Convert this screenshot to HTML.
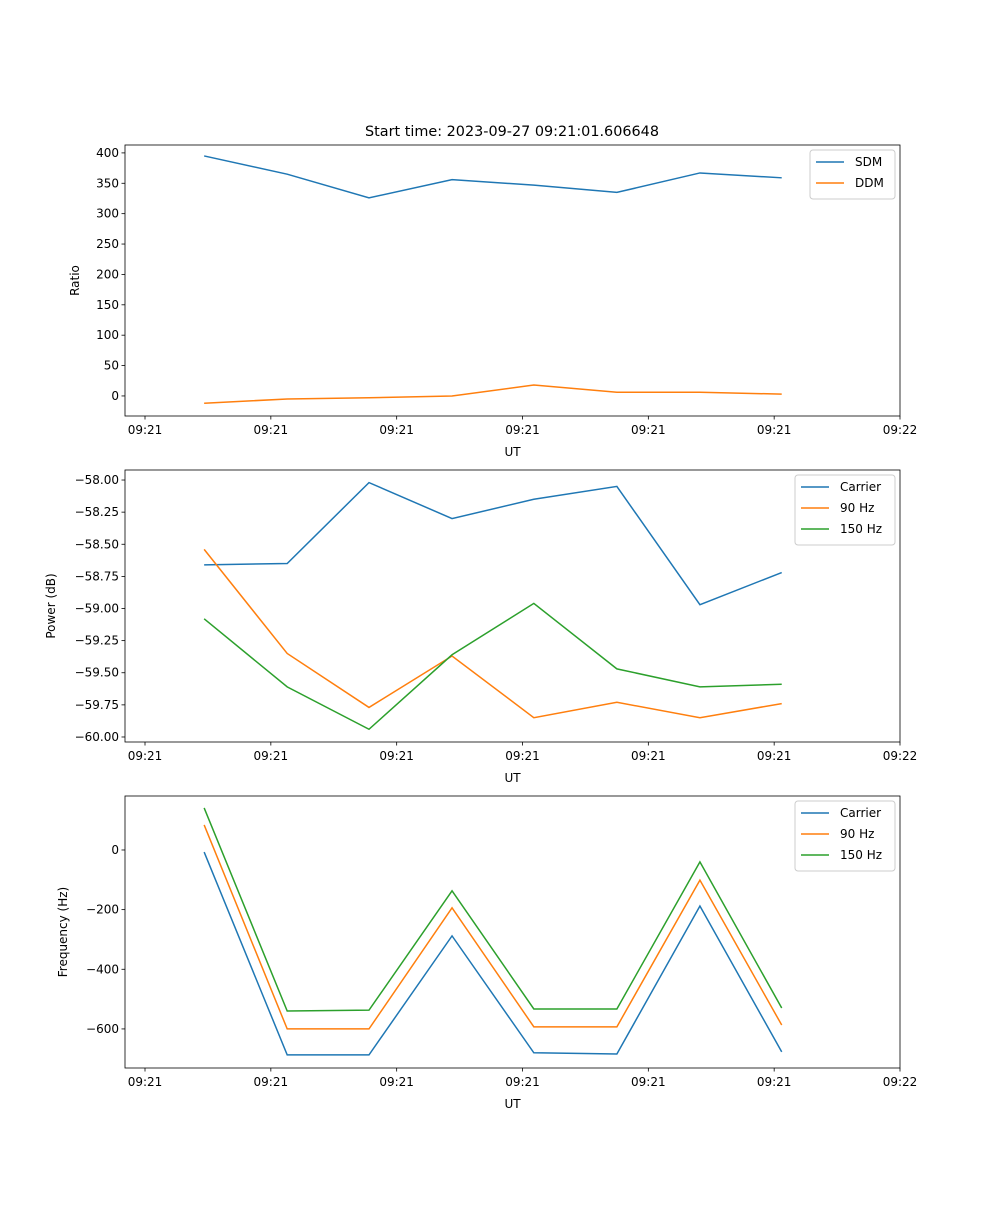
<!DOCTYPE html>
<html><head><meta charset="utf-8"><style>
body{margin:0;background:#fff;}
svg text{font-family:"DejaVu Sans","Liberation Sans",sans-serif;font-size:12px;fill:#000;}
</style></head>
<body>
<svg id="chart" width="1000" height="1200" xmlns="http://www.w3.org/2000/svg"></svg>
<script>
const xTickLabels=["09:21","09:21","09:21","09:21","09:21","09:21","09:22"];
const xVals=[0.47,1.13,1.78,2.44,3.09,3.75,4.41,5.06];
const sdm=[395,365,326,356,347,335,367,359];
const ddm=[-12,-5,-3,0,18,6,6,3];
const powCarrier=[-58.66,-58.65,-58.02,-58.30,-58.15,-58.05,-58.97,-58.72];
const pow90=[-58.54,-59.35,-59.77,-59.37,-59.85,-59.73,-59.85,-59.74];
const pow150=[-59.08,-59.61,-59.94,-59.36,-58.96,-59.47,-59.61,-59.59];
const frqCarrier=[-7,-687,-687,-288,-680,-684,-188,-677];
const frq90=[84,-600,-600,-194,-593,-593,-101,-587];
const frq150=[141,-540,-537,-137,-533,-533,-40,-530];
const ratioTicks=[0,50,100,150,200,250,300,350,400];
const powTicks=[-60,-59.75,-59.5,-59.25,-59,-58.75,-58.5,-58.25,-58];
const frqTicks=[-600,-400,-200,0];

const NS="http://www.w3.org/2000/svg";
const svg=document.getElementById('chart');
function el(t,a,p){const e=document.createElementNS(NS,t);for(const k in a)e.setAttribute(k,a[k]);(p||svg).appendChild(e);return e;}
const L=125,R=900;
function xs(v){return L+(v+0.159)/6.159*(R-L);}
const C=['#1f77b4','#ff7f0e','#2ca02c'];

function panel(name,top,bot,ymin,ymax,ticks,fmt,ylab,series,names,legend){
  const g=el('g',{});
  
  
  const ys=v=>bot-(v-ymin)/(ymax-ymin)*(bot-top);
  series.forEach((s,i)=>{
    const p=el('polyline',{points:s.map((v,j)=>xs(xVals[j])+','+ys(v)).join(' '),fill:'none',stroke:C[i],'stroke-width':1.5},g);
    
    
  });
  el('rect',{x:L,y:top,width:R-L,height:bot-top,fill:'none',stroke:'#000','stroke-width':0.8},g);
  ticks.forEach(t=>{const y=ys(t);
    el('line',{x1:L-3.5,x2:L,y1:y,y2:y,stroke:'#000','stroke-width':0.8},g);
    const tx=el('text',{x:L-6,y:y+4,'text-anchor':'end'},g);tx.textContent=fmt(t);
    
    
  });
  xTickLabels.forEach((lab,i)=>{const x=xs(i);
    el('line',{x1:x,x2:x,y1:bot,y2:bot+3.5,stroke:'#000','stroke-width':0.8},g);
    const tx=el('text',{x:x,y:bot+18,'text-anchor':'middle'},g);tx.textContent=lab;
    
    
  });
  const xl=el('text',{x:(L+R)/2,y:bot+40,'text-anchor':'middle'},g);xl.textContent='UT';
  
  
  const yx=legend.yx,yl=el('text',{x:yx,y:(top+bot)/2,'text-anchor':'middle',transform:`rotate(-90 ${yx} ${(top+bot)/2})`},g);yl.textContent=ylab;
  
  
  const lg=el('g',{},g);
  
  
  el('rect',{x:legend.x,y:top+5,width:R-5-legend.x,height:names.length*21+7,fill:'#fff',stroke:'#ccc',rx:3},lg);
  names.forEach((n,i)=>{const y=top+17+i*21;
    el('line',{x1:legend.x+6,x2:legend.x+34,y1:y,y2:y,stroke:C[i],'stroke-width':1.5},lg);
    const t=el('text',{x:legend.x+45,y:y+4},lg);t.textContent=n;
    
    
  });
}
const title=el('text',{x:512,y:136,'text-anchor':'middle',style:'font-size:14.4px'});
title.textContent='Start time: 2023-09-27 09:21:01.606648';


panel('ratio-panel',145,416,-33,413,ratioTicks,t=>String(t),'Ratio',[sdm,ddm],['SDM','DDM'],{x:810,yx:79});
panel('power-panel',470,742,-60.039,-57.922,powTicks,t=>t.toFixed(2).replace('-','−'),'Power (dB)',[powCarrier,pow90,pow150],['Carrier','90 Hz','150 Hz'],{x:795,yx:55});
panel('frequency-panel',796,1068,-731,181,frqTicks,t=>String(t).replace('-','−'),'Frequency (Hz)',[frqCarrier,frq90,frq150],['Carrier','90 Hz','150 Hz'],{x:795,yx:67});
</script>
</body></html>
